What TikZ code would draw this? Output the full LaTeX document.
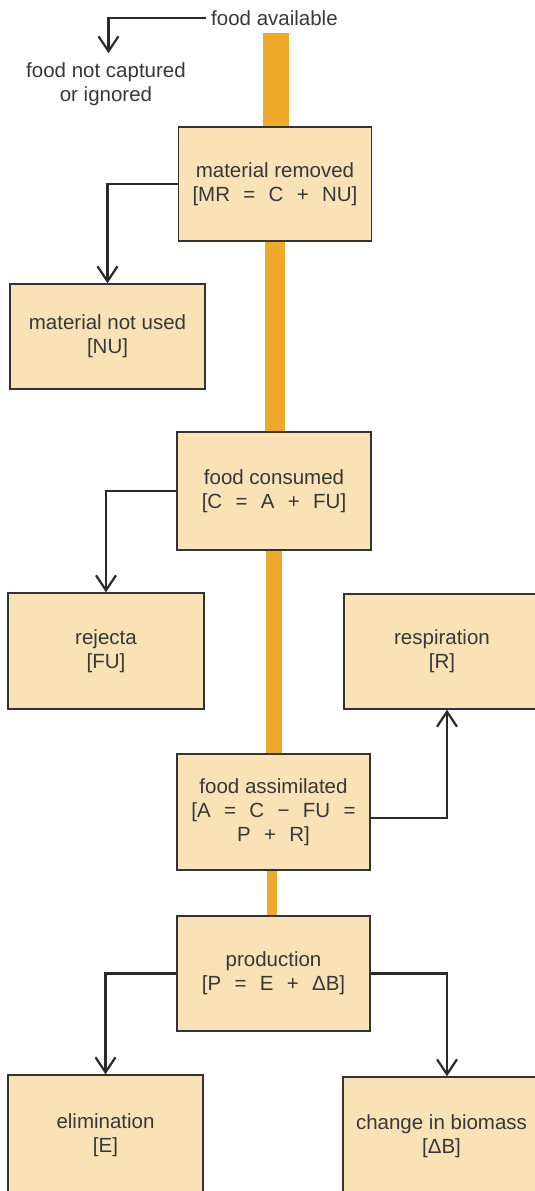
\documentclass[tikz,border=0pt]{standalone}
\usepackage{fontspec}
\setmainfont{Liberation Sans}
\usetikzlibrary{arrows.meta}
\definecolor{boxfill}{HTML}{F8E2B6}
\definecolor{boxline}{HTML}{333333}
\definecolor{flowbar}{HTML}{EEA82A}
\definecolor{ink}{HTML}{383838}
\definecolor{wire}{HTML}{2A2A2A}
% wide spacing around the operators of the budget equations
\newcommand\eqgap{\hspace{0.65em}}

\begin{document}
\begin{tikzpicture}[x=1pt,y=-1pt,
  box/.style={draw=boxline, line width=1.4pt, fill=boxfill, align=center,
    text=ink, inner sep=0pt, font=\fontsize{20.5}{24}\selectfont},
  plain/.style={align=center, text=ink, inner sep=0pt,
    font=\fontsize{20.5}{24}\selectfont},
  flow/.style={draw=wire, line width=2.2pt,
    -{Straight Barb[length=15pt,width=20pt,line width=2.2pt]}},
  bar/.style={fill=flowbar}]
\useasboundingbox (0,0) rectangle (535,1191);

% energy stream running down the chain, narrowing at each stage
\fill[bar] (263,33)  rectangle (289,140);
\fill[bar] (265,230) rectangle (285,440);
\fill[bar] (266,540) rectangle (282,760);
\fill[bar] (267,860) rectangle (277,925);

% stages
\node[box, minimum width=193pt, minimum height=114pt] (mr) at (275,184)
  {material removed\\{[}MR\eqgap=\eqgap C\eqgap+\eqgap NU]};
\node[box, minimum width=195pt, minimum height=105pt] (nu) at (107.5,336.5)
  {material not used\\{[}NU]};
\node[box, minimum width=194pt, minimum height=118pt] (fc) at (274,491)
  {food consumed\\{[}C\eqgap=\eqgap A\eqgap+\eqgap FU]};
\node[box, minimum width=196pt, minimum height=116pt] (rej) at (106,651)
  {rejecta\\{[}FU]};
\node[box, minimum width=196pt, minimum height=115pt] (resp) at (442,651.5)
  {respiration\\{[}R]};
\node[box, minimum width=193pt, minimum height=116pt] (fa) at (273.5,812)
  {food assimilated\\{[}A\eqgap=\eqgap C\eqgap−\eqgap FU\eqgap=\\P\eqgap+\eqgap R]};
\node[box, minimum width=193pt, minimum height=115pt] (prod) at (273.5,973.5)
  {production\\{[}P\eqgap=\eqgap E\eqgap+\eqgap ΔB]};
\node[box, minimum width=195pt, minimum height=120pt] (elim) at (105.5,1135)
  {elimination\\{[}E]};
\node[box, minimum width=197pt, minimum height=118pt] (db) at (441.5,1136)
  {change in biomass\\{[}ΔB]};

% free labels at the top
\node[plain, anchor=west] (avail) at (211,18) {food available};
\node[plain] (lost) at (106,84) {food not captured\\or ignored};

% connectors
\draw[flow] ([xshift=-5pt]avail.west) -| ([xshift=2.5pt,yshift=9pt]lost.north);
\draw[flow] (mr.west) -| (nu.north);
\draw[flow] (fc.west) -| (rej.north);
\draw[flow] ([yshift=-6pt]fa.east) -| ([xshift=5pt]resp.south);
\draw[flow] (prod.west) -| (elim.north);
\draw[flow] (prod.east) -| ([xshift=5.5pt]db.north);
\end{tikzpicture}
\end{document}
